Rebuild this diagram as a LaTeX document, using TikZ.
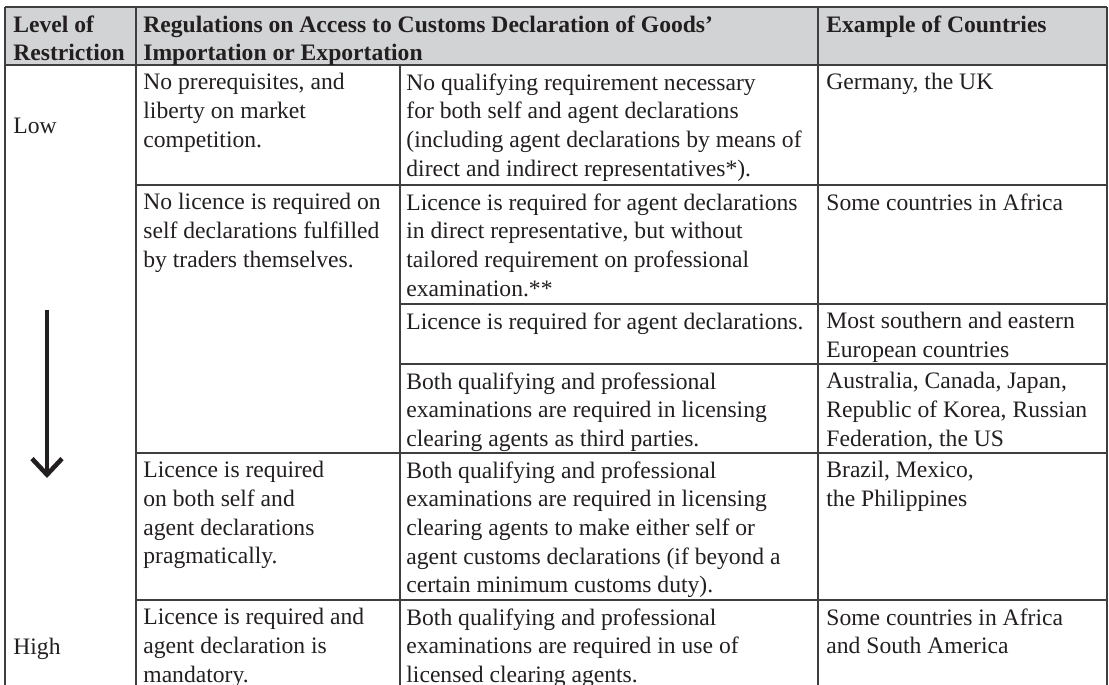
\documentclass[tikz,border=0pt]{standalone}
\usepackage{fontspec}
\setmainfont{Liberation Serif}
\usetikzlibrary{arrows.meta}
\definecolor{rulegray}{RGB}{62,62,64}
\definecolor{headgray}{RGB}{209,211,212}
\definecolor{inkblack}{RGB}{35,31,32}
\tikzset{
  cell/.style={anchor=north west, inner sep=0pt, align=left, text=inkblack,
    font=\fontsize{11.8}{14.35}\selectfont},
  headcell/.style={cell, font=\fontsize{11.8}{14.35}\selectfont\bfseries},
  rule/.style={draw=rulegray, line width=0.7pt},
  levelarrow/.style={draw=inkblack, line width=2.3pt,
    -{Straight Barb[length=8pt, width=15pt, line width=2.3pt]}}
}
\begin{document}
\begin{tikzpicture}[x=0.5pt, y=-0.5pt]
    \useasboundingbox (0,0) rectangle (1109,685);
    % column edges
    \def\xa{5}
    \def\xb{136}
    \def\xc{400}
    \def\xd{818}
    \def\xe{1107}
    % row edges
    \def\ya{7}
    \def\yb{65}
    \def\yc{185}
    \def\yd{304}
    \def\ye{364}
    \def\yf{453}
    \def\yg{600}
    \def\yh{685}
    \def\pad{8}
    % header band
    \fill[headgray] (\xa,\ya) rectangle (\xe,\yb);
    \draw[rule] (\xa,\ya) -- (\xe,\ya);
    \draw[rule] (\xa,\yb) -- (\xe,\yb);
    \draw[rule] (\xb,\yc) -- (\xe,\yc);
    \draw[rule] (\xc,\yd) -- (\xe,\yd);
    \draw[rule] (\xc,\ye) -- (\xe,\ye);
    \draw[rule] (\xb,\yf) -- (\xe,\yf);
    \draw[rule] (\xb,\yg) -- (\xe,\yg);
    \foreach \x in {\xa,\xb,\xd,\xe}
      \draw[rule] (\x,\ya) -- (\x,\yh);
    \draw[rule] (\xc,\yb) -- (\xc,\yh);
    % header texts
    \node[headcell] (hlevel) at (13,\ya+\pad) {Level of\\Restriction};
    \node[headcell] (hrule) at (143,\ya+\pad) {Regulations on Access to Customs Declaration of Goods'\\Importation or Exportation};
    \node[headcell] (hcountry) at (826,\ya+\pad) {Example of Countries};
    % level of restriction
    \node[cell] (low) at (13,118) {Low};
    \node[cell] (high) at (13,638) {High};
    \coordinate (arrtop) at (47,310);
    \coordinate (arrtip) at (47,478);
    \draw[levelarrow] (arrtop) -- (arrtip);
    % regulations, left part
    \node[cell] (ra) at (143,\yb+\pad) {No prerequisites, and\\liberty on market\\competition.};
    \node[cell] (rb) at (143,\yc+\pad) {No licence is required on\\self declarations fulfilled\\by traders themselves.};
    \node[cell] (rc) at (143,\yf+\pad) {Licence is required\\on both self and\\agent declarations\\pragmatically.};
    \node[cell] (rd) at (143,\yg+\pad) {Licence is required and\\agent declaration is\\mandatory.};
    % regulations, right part
    \node[cell] (qa) at (406,\yb+\pad) {No qualifying requirement necessary\\for both self and agent declarations\\(including agent declarations by means of\\direct and indirect representatives*).};
    \node[cell] (qb) at (406,\yc+\pad) {Licence is required for agent declarations\\in direct representative, but without\\tailored requirement on professional\\examination.**};
    \node[cell] (qc) at (406,\yd+\pad) {Licence is required for agent declarations.};
    \node[cell] (qd) at (406,\ye+\pad) {Both qualifying and professional\\examinations are required in licensing\\clearing agents as third parties.};
    \node[cell] (qe) at (406,\yf+\pad) {Both qualifying and professional\\examinations are required in licensing\\clearing agents to make either self or\\agent customs declarations (if beyond a\\certain minimum customs duty).};
    \node[cell] (qf) at (406,\yg+\pad) {Both qualifying and professional\\examinations are required in use of\\licensed clearing agents.};
    % countries
    \node[cell] (ca) at (826,\yb+\pad) {Germany, the UK};
    \node[cell] (cb) at (826,\yc+\pad) {Some countries in Africa};
    \node[cell] (cc) at (826,\yd+\pad) {Most southern and eastern\\European countries};
    \node[cell] (cd) at (826,\ye+\pad) {Australia, Canada, Japan,\\Republic of Korea, Russian\\Federation, the US};
    \node[cell] (ce) at (826,\yf+\pad) {Brazil, Mexico,\\the Philippines};
    \node[cell] (cf) at (826,\yg+\pad) {Some countries in Africa\\and South America};
\end{tikzpicture}
\end{document}
